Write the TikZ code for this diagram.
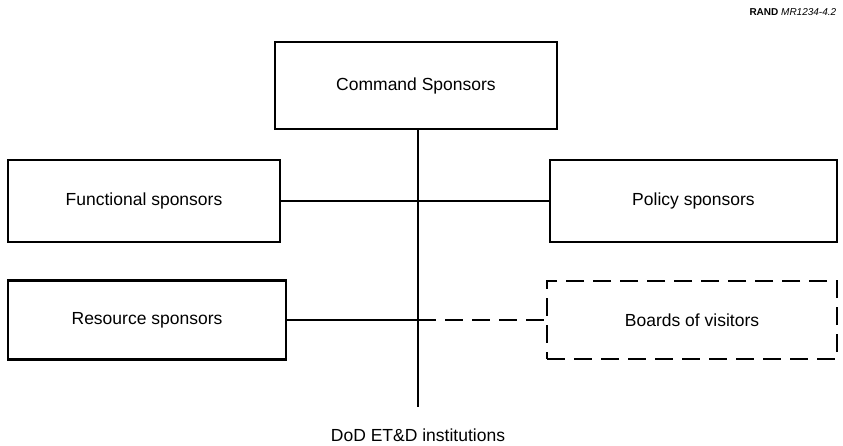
\documentclass[tikz,border=0pt]{standalone}
\usepackage{fontspec}
\setmainfont{Liberation Sans}
\usetikzlibrary{arrows}

\begin{document}
\begin{tikzpicture}[x = 1pt, y = -1pt, % one unit = one pixel, y downwards
                line width = 1.6pt, % line style
                font = \fontsize{17.5}{21}\selectfont
            ]

            \tikzstyle{box}=[draw = black, rectangle, inner sep = 0pt,
            line width = 2.2pt]
            \tikzstyle{dbox}=[box, dash pattern = on 18pt off 9pt]

            \useasboundingbox (0,0) rectangle (843,445);

            \node[box, minimum width = 282pt, minimum height = 87pt] (cs) at
            (416,85.5) {Command Sponsors}; \node[box, minimum width = 272pt,
            minimum height = 82pt] (fs) at (144,201) {Functional sponsors};
            \node[box, minimum width = 287pt, minimum height = 82pt] (ps) at
            (693.5,201) {Policy sponsors}; \node[box, minimum width = 278pt,
            minimum height = 79pt] (rs) at (147,320) {Resource sponsors};
            \node[dbox, minimum width = 290pt, minimum height = 78pt] (bv) at
            (692,320) {Boards of visitors};

            \coordinate (j) at (418,320); \coordinate (end) at (418,407);
            \node (dod) at (418,435) {DoD ET\&D institutions};
            \node[anchor = east, inner sep = 0pt, font = \fontsize{10}{12}\selectfont]
            (rand) at (837,12) {\textbf{RAND} \textit{MR1234-4.2}};

            \path (cs.south -| end) edge (end); \path (fs) edge (ps); \path
            (rs) edge (j); \path[dash pattern = on 18pt off 9pt] (j) edge
            (bv);\end{tikzpicture}
\end{document}
